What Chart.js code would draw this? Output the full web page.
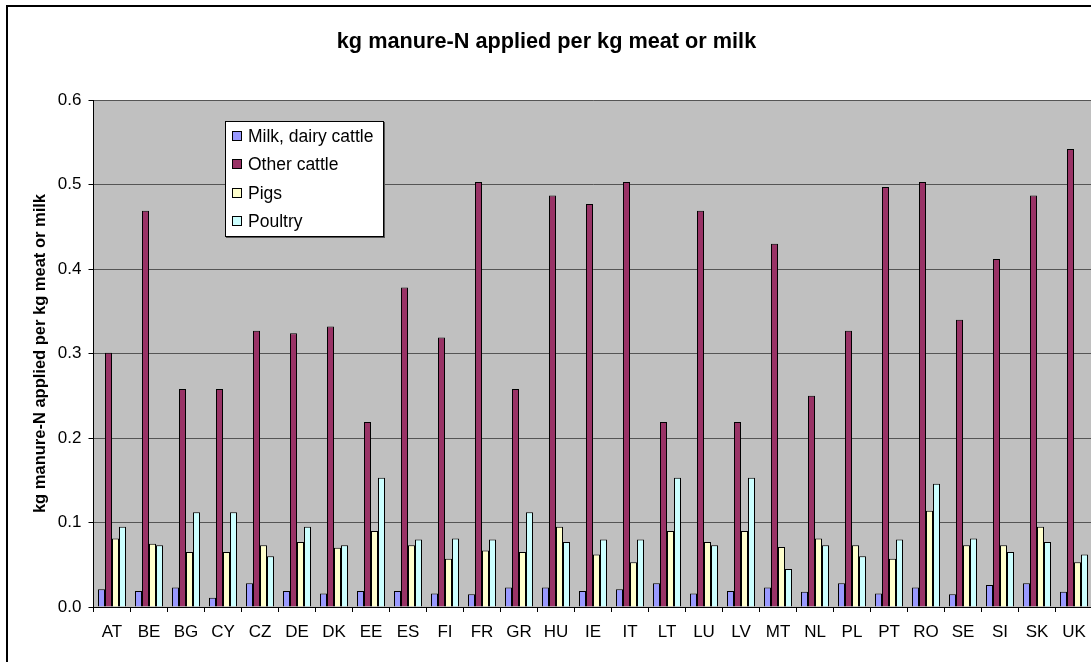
<!DOCTYPE html>
<html>
<head>
<meta charset="utf-8">
<script src="https://cdn.jsdelivr.net/npm/chart.js@4.4.0/dist/chart.umd.min.js"></script>
<style>
  html, body { margin:0; padding:0; background:#fff; overflow:hidden; }
  #wrap { position:relative; width:1104px; height:662px; }
  #legend { position:absolute; left:225px; top:121px; width:157px; height:114px; background:#fff;
            border:1px solid #000; box-shadow:1px 1px 0 #555; font:17.5px 'Liberation Sans', Arial, sans-serif; }
  #legend div { position:absolute; left:6px; height:20px; line-height:20px; white-space:nowrap; }
  #legend span { display:inline-block; width:8px; height:8px; border:1px solid #000; margin-right:6px; vertical-align:1px; }
</style>
</head>
<body>
<div id="wrap">
  <canvas id="c" width="1104" height="662"></canvas>
  <div id="legend"></div>
</div>
<script>
  const countries = ['AT','BE','BG','CY','CZ','DE','DK','EE','ES','FI','FR','GR','HU','IE','IT','LT','LU','LV','MT','NL','PL','PT','RO','SE','SI','SK','UK'];
  const milk        = [0.021,0.019,0.023,0.011,0.028,0.019,0.016,0.019,0.019,0.016,0.015,0.023,0.023,0.019,0.021,0.028,0.016,0.019,0.023,0.018,0.028,0.016,0.023,0.015,0.026,0.028,0.018];
  const otherCattle = [0.301,0.469,0.258,0.258,0.327,0.324,0.332,0.219,0.378,0.319,0.503,0.258,0.487,0.477,0.503,0.219,0.469,0.219,0.430,0.250,0.327,0.497,0.503,0.340,0.412,0.487,0.542];
  const pigs        = [0.081,0.075,0.065,0.065,0.073,0.077,0.070,0.090,0.073,0.057,0.067,0.065,0.095,0.062,0.053,0.090,0.077,0.090,0.071,0.081,0.073,0.057,0.114,0.073,0.073,0.095,0.053];
  const poultry     = [0.095,0.073,0.112,0.112,0.060,0.095,0.073,0.153,0.080,0.081,0.080,0.112,0.077,0.080,0.080,0.153,0.073,0.153,0.045,0.073,0.060,0.080,0.146,0.081,0.065,0.077,0.062];
  const seriesNames = ['Milk, dairy cattle','Other cattle','Pigs','Poultry'];
  const seriesColors = ['#9999FF','#993366','#FFFFCC','#CCFFFF'];
  const seriesData = [milk, otherCattle, pigs, poultry];

  Chart.defaults.font.family = "'Liberation Sans', Arial, sans-serif";
  Chart.defaults.color = '#000';

  // grey plot area + outer frame like the Excel original
  const frame = {
    id: 'frame',
    beforeDraw(chart) {
      const { ctx, chartArea: a } = chart;
      ctx.save();
      ctx.fillStyle = '#fff';
      ctx.fillRect(0, 0, chart.width, chart.height);
      ctx.fillStyle = '#C0C0C0';
      ctx.fillRect(a.left, a.top, a.right - a.left, a.bottom - a.top);
      ctx.strokeStyle = '#000';
      ctx.lineWidth = 2;
      ctx.strokeRect(7, 6, 1300, 800);
      ctx.restore();
    }
  };

  const datasets = seriesNames.map((n, i) => ({
    label: n,
    data: seriesData[i],
    backgroundColor: seriesColors[i],
    borderColor: '#000',
    borderWidth: 1,
    categoryPercentage: 28 / 37,
    barPercentage: 1.0
  }));

  new Chart(document.getElementById('c'), {
    type: 'bar',
    data: { labels: countries, datasets: datasets },
    options: {
      responsive: false,
      animation: false,
      layout: { padding: { left: 0.5, right: 11.5, top: 0, bottom: 0 } },
      plugins: {
        legend: { display: false },
        tooltip: { enabled: false },
        title: {
          display: true,
          text: 'kg manure-N applied per kg meat or milk',
          font: { size: 21.7, weight: 'bold' },
          color: '#000',
          padding: { top: 29, bottom: 45 }
        }
      },
      scales: {
        x: {
          afterFit(s) { s.height = 55; },
          grid: { offset: true, drawOnChartArea: false, drawTicks: true, tickLength: 5, color: '#000', tickColor: '#000' },
          border: { color: '#000', width: 1 },
          ticks: { font: { size: 17 }, padding: 10, maxRotation: 0, autoSkip: false }
        },
        y: {
          min: 0, max: 0.6,
          afterFit(s) { s.width = 93; },
          grid: { color: '#555', tickColor: '#000', tickLength: 5, lineWidth: 1 },
          border: { color: '#000', width: 1 },
          ticks: { stepSize: 0.1, font: { size: 17 }, padding: 7, callback: v => v.toFixed(1) },
          title: {
            display: true,
            text: 'kg manure-N applied per kg meat or milk',
            font: { size: 16.5, weight: 'bold' },
            color: '#000',
            padding: { top: 30, bottom: 0 }
          }
        }
      }
    },
    plugins: [frame]
  });

  const lg = document.getElementById('legend');
  seriesNames.forEach((n, i) => {
    const d = document.createElement('div');
    d.style.top = (4 + i * 28.3) + 'px';
    d.innerHTML = '<span style="background:' + seriesColors[i] + '"></span>' + n;
    lg.appendChild(d);
  });
</script>
</body>
</html>
